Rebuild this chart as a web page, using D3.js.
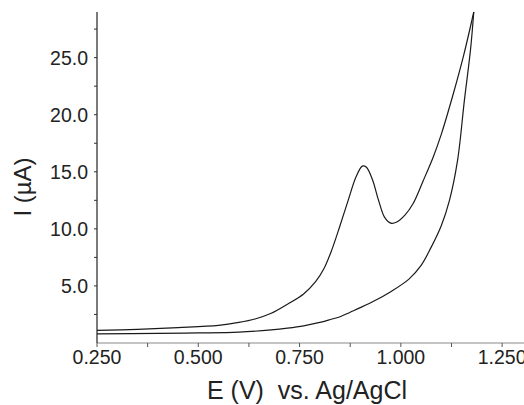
<!DOCTYPE html>
<html>
<head>
<meta charset="utf-8">
<script src="https://cdn.jsdelivr.net/npm/d3@7"></script>
<style>
  body { margin: 0; background: #fff; }
  svg text { font-family: Arial, "Liberation Sans", Helvetica, sans-serif; fill: #222; }
</style>
</head>
<body>
<div id="chart"></div>
<script>
// forward scan (with the oxidation peak)
var fwd_E = [0.25, 0.35, 0.45, 0.55, 0.60, 0.64, 0.68, 0.72, 0.76, 0.79, 0.81, 0.83, 0.85, 0.87, 0.89, 0.905, 0.915, 0.93, 0.945, 0.96, 0.975, 0.99, 1.01, 1.03, 1.055, 1.08, 1.10, 1.13, 1.155, 1.18]
var fwd_I = [1.1, 1.2, 1.35, 1.55, 1.8, 2.1, 2.6, 3.4, 4.3, 5.4, 6.5, 8.2, 10.3, 12.5, 14.6, 15.5, 15.4, 14.3, 12.5, 11.0, 10.5, 10.6, 11.2, 12.2, 14.2, 16.3, 18.3, 21.9, 25.2, 29.0]
// reverse scan
var rev_E = [1.18, 1.172, 1.157, 1.14, 1.12, 1.10, 1.075, 1.05, 1.02, 0.975, 0.935, 0.90, 0.875, 0.85, 0.83, 0.80, 0.76, 0.72, 0.68, 0.60, 0.50, 0.40, 0.25]
var rev_I = [29.0, 25.7, 21.3, 16.0, 12.5, 10.3, 8.4, 6.8, 5.6, 4.5, 3.7, 3.1, 2.7, 2.3, 2.1, 1.8, 1.5, 1.3, 1.15, 0.95, 0.88, 0.85, 0.8]
var x_ticks = [0.25, 0.5, 0.75, 1.0, 1.25]
var y_ticks = [5, 10, 15, 20, 25]

var width = 524, height = 405
var m_left = 97, m_right = 524, m_top = 12, m_bottom = 343

var svg = d3.select("#chart").append("svg").attr("width", width).attr("height", height)

var x = d3.scaleLinear().domain([0.25, 1.304]).range([m_left, m_right])
var y = d3.scaleLinear().domain([0, 29]).range([m_bottom, m_top])

// x axis
var xMinor = d3.range(0.25, 1.30, 0.125)
svg.append("line").attr("x1", m_left).attr("x2", m_right).attr("y1", m_bottom).attr("y2", m_bottom)
    .attr("stroke", "#8a8a8a").attr("stroke-width", 1.2)
svg.selectAll(".xminor").data(xMinor).enter().append("line")
    .attr("x1", d => x(d)).attr("x2", d => x(d)).attr("y1", m_bottom).attr("y2", m_bottom + 4)
    .attr("stroke", "#555").attr("stroke-width", 1)
svg.selectAll(".xlab").data(x_ticks).enter().append("text")
    .attr("x", d => x(d)).attr("y", 364)
    .attr("text-anchor", "middle").attr("font-size", "19.5px")
    .text(d => d3.format(".3f")(d))

// y axis
var yMinor = d3.range(2.5, 29, 2.5)
svg.append("line").attr("x1", m_left).attr("x2", m_left).attr("y1", m_top).attr("y2", m_bottom)
    .attr("stroke", "#222").attr("stroke-width", 1.2)
svg.selectAll(".yminor").data(yMinor).enter().append("line")
    .attr("x1", m_left - 3).attr("x2", m_left).attr("y1", d => y(d)).attr("y2", d => y(d))
    .attr("stroke", "#333").attr("stroke-width", 1)
svg.selectAll(".ylab").data(y_ticks).enter().append("text")
    .attr("x", 88).attr("y", d => y(d)).attr("dy", "0.36em")
    .attr("text-anchor", "end").attr("font-size", "19.5px")
    .text(d => d3.format(".1f")(d))

// axis titles
svg.append("text").attr("x", 307).attr("y", 399)
    .attr("text-anchor", "middle").attr("font-size", "25px")
    .attr("xml:space", "preserve").style("white-space", "pre")
    .text("E (V)  vs. Ag/AgCl")
svg.append("text").attr("transform", "translate(31,187) rotate(-90)")
    .attr("text-anchor", "middle").attr("font-size", "24px")
    .text("I (\u00b5A)")

// curves
var line = d3.line().x(d => x(d[0])).y(d => y(d[1])).curve(d3.curveCatmullRom.alpha(0.5))
var fwd = fwd_E.map((e, i) => [e, fwd_I[i]])
var rev = rev_E.map((e, i) => [e, rev_I[i]]).sort((a, b) => a[0] - b[0])
svg.append("path").datum(fwd).attr("d", line)
    .attr("fill", "none").attr("stroke", "#1a1a1a").attr("stroke-width", 1.2)
svg.append("path").datum(rev).attr("d", line)
    .attr("fill", "none").attr("stroke", "#1a1a1a").attr("stroke-width", 1.2)
</script>
</body>
</html>
